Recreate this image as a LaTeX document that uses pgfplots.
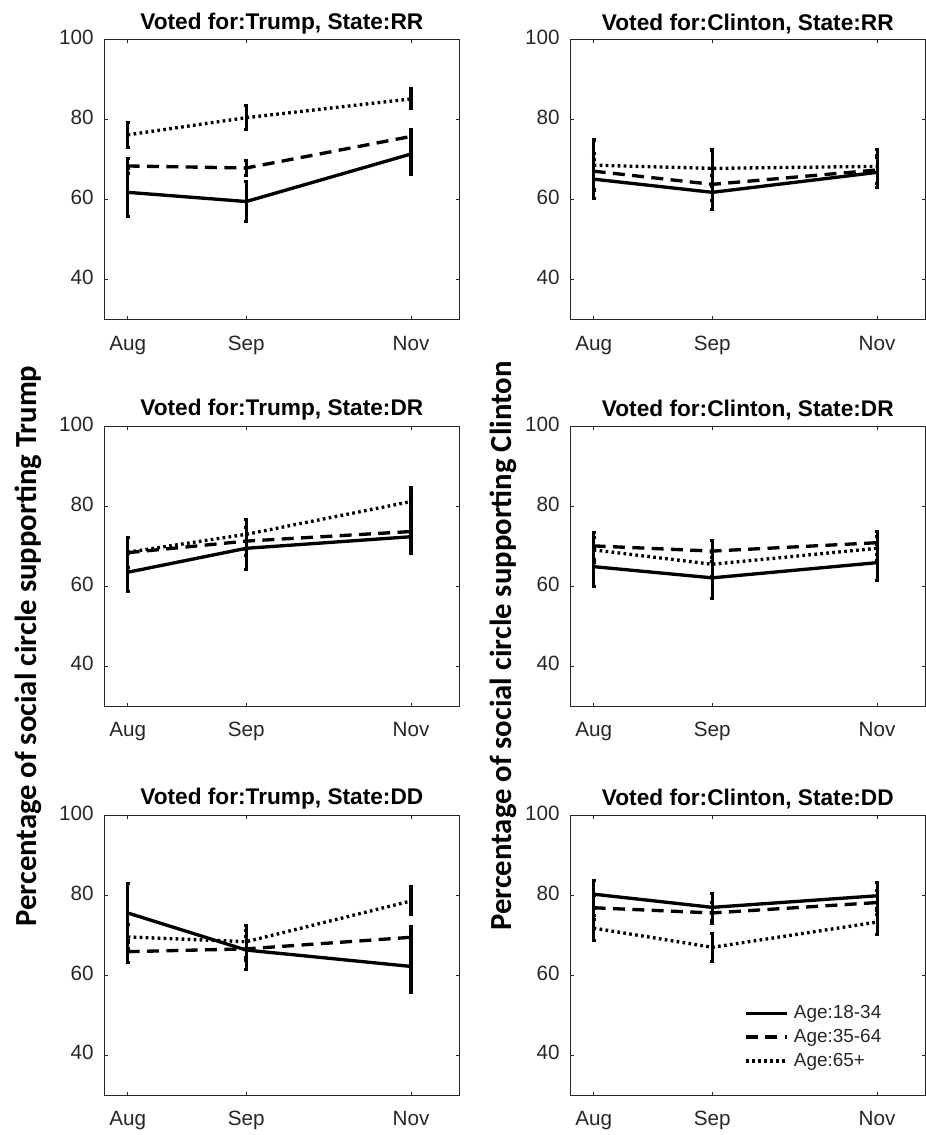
\documentclass[border=0pt]{standalone}
\usepackage{fontspec}
\setmainfont{Liberation Sans}
\newfontfamily\calibri{Carlito}
\usepackage{pgfplots}
\pgfplotsset{compat=1.18}
\definecolor{axgray}{RGB}{38,38,38}
\newcommand{\U}{0.75pt}
\pgfplotsset{
  every error bar/.append style={line width=2.3pt, solid},
  panel/.style={
    scale only axis, width=266.25pt, height=209.6pt,
    anchor=south west,
    xmin=-0.197, xmax=2.796, ymin=30, ymax=100,
    xtick={0,1,2.389}, xticklabels={Aug,Sep,Nov},
    ytick={40,60,80,100},
    tick align=inside, major tick length=2.6pt,
    axis line style={color=axgray, line width=0.6pt},
    tick style={color=axgray, line width=0.6pt},
    ticklabel style={font=\fontsize{15.5}{18}\selectfont, text=axgray},
    typeset ticklabels with strut,
    xticklabel style={yshift=-7pt},
    yticklabel style={xshift=-4.5pt},
    title style={font=\bfseries\fontsize{17}{20}\selectfont, yshift=-5pt},
    /pgf/number format/assume math mode=true,
  },
  eb/.style={error bars/.cd, y dir=both, y explicit,
    error bar style={line width=2.3pt, solid},
    error mark options={rotate=90, mark size=1.6pt, line width=2.3pt, solid}},
  s1/.style={black, line width=2.5pt, mark=none, solid, eb},
  s2/.style={black, line width=2.5pt, mark=none, dash pattern=on 9pt off 5.5pt, eb},
  s3/.style={black, line width=2.5pt, mark=none, dash pattern=on 2pt off 2.5pt, eb},
}
\begin{document}
\begin{tikzpicture}
\useasboundingbox (0,0) rectangle (693.75pt,851.25pt);
% Row 1
\begin{axis}[panel, at={(104.3*\U,815.7*\U)}, title={Voted for:Trump, State:RR}]
\addplot[s1] coordinates {(0,61.8) +- (0,6.0) (1,59.5) +- (0,5.0) (2.389,71.4) +- (0,5.0)};
\addplot[s2] coordinates {(0,68.4) +- (0,1.8) (1,67.9) +- (0,1.8) (2.389,75.8) +- (0,1.8)};
\addplot[s3] coordinates {(0,76.2) +- (0,3.2) (1,80.5) +- (0,3.0) (2.389,85.2) +- (0,2.5)};
\end{axis}
\begin{axis}[panel, at={(570.3*\U,815.7*\U)}, title={Voted for:Clinton, State:RR}]
\addplot[s1] coordinates {(0,65.1) +- (0,4.9) (1,61.8) +- (0,4.3) (2.389,66.8) +- (0,3.7)};
\addplot[s2] coordinates {(0,67.1) +- (0,4.5) (1,63.8) +- (0,4.0) (2.389,67.4) +- (0,3.5)};
\addplot[s3] coordinates {(0,68.6) +- (0,6.3) (1,67.8) +- (0,4.6) (2.389,68.3) +- (0,4.3)};
\end{axis}
% Row 2
\begin{axis}[panel, at={(104.3*\U,429*\U)}, title={Voted for:Trump, State:DR}]
\addplot[s1] coordinates {(0,63.5) +- (0,4.8) (1,69.5) +- (0,5.2) (2.389,72.4) +- (0,4.1)};
\addplot[s2] coordinates {(0,68.4) +- (0,3.8) (1,71.3) +- (0,3.5) (2.389,73.7) +- (0,3.5)};
\addplot[s3] coordinates {(0,68.5) +- (0,3.8) (1,73.0) +- (0,3.8) (2.389,81.2) +- (0,3.6)};
\end{axis}
\begin{axis}[panel, at={(570.3*\U,429*\U)}, title={Voted for:Clinton, State:DR}]
\addplot[s1] coordinates {(0,64.9) +- (0,4.9) (1,62.1) +- (0,5.2) (2.389,65.9) +- (0,4.5)};
\addplot[s2] coordinates {(0,70.1) +- (0,3.3) (1,68.8) +- (0,2.7) (2.389,70.9) +- (0,2.9)};
\addplot[s3] coordinates {(0,69.1) +- (0,3.2) (1,65.5) +- (0,3.0) (2.389,69.5) +- (0,3.0)};
\end{axis}
% Row 3
\begin{axis}[panel, at={(104.3*\U,40*\U)}, title={Voted for:Trump, State:DD}]
\addplot[s1] coordinates {(0,75.6) +- (0,7.3) (1,66.3) +- (0,4.8) (2.389,62.2) +- (0,6.4)};
\addplot[s2] coordinates {(0,65.9) +- (0,2.7) (1,66.6) +- (0,3.0) (2.389,69.5) +- (0,2.7)};
\addplot[s3] coordinates {(0,69.6) +- (0,3.0) (1,68.4) +- (0,4.0) (2.389,78.6) +- (0,3.5)};
\end{axis}
\begin{axis}[panel, at={(570.3*\U,40*\U)}, title={Voted for:Clinton, State:DD},
  legend style={at={(0.478,0.335)}, anchor=north west, draw=none, fill=none,
    font=\fontsize{14.2}{16}\selectfont, text=axgray, row sep=4.5pt,
    nodes={inner xsep=4pt, inner ysep=1pt}},
  legend cell align=left,
  legend image code/.code={\draw[#1] (0pt,0pt) -- (30.75pt,0pt);}]
\addplot[s1] coordinates {(0,80.3) +- (0,3.5) (1,77.0) +- (0,3.4) (2.389,79.9) +- (0,3.3)};
\addplot[s2] coordinates {(0,76.9) +- (0,3.0) (1,75.6) +- (0,2.6) (2.389,78.2) +- (0,3.0)};
\addplot[s3] coordinates {(0,71.8) +- (0,3.2) (1,67.0) +- (0,3.5) (2.389,73.3) +- (0,3.0)};
\legend{Age:18-34, Age:35-64, Age:65+}
\end{axis}
\node[rotate=90, font=\calibri\bfseries\fontsize{23}{26}\selectfont] at (28*\U,489*\U) {Percentage of social circle supporting Trump};
\node[rotate=90, font=\calibri\bfseries\fontsize{23}{26}\selectfont] at (503*\U,489*\U) {Percentage of social circle supporting Clinton};
\end{tikzpicture}
\end{document}
